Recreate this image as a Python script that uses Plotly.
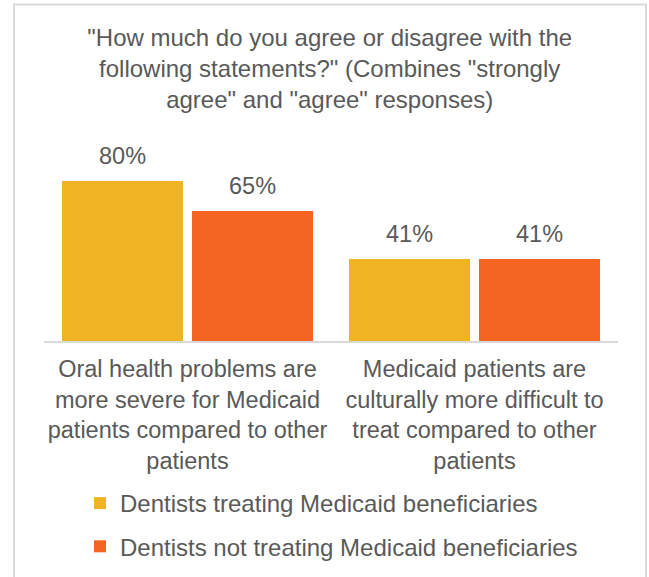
import plotly.graph_objects as go

categories = [
    "Oral health problems are<br>more severe for Medicaid<br>patients compared to other<br>patients",
    "Medicaid patients are<br>culturally more difficult to<br>treat compared to other<br>patients",
]
series_names = [
    "Dentists treating Medicaid beneficiaries",
    "Dentists not treating Medicaid beneficiaries",
]
treating = [80, 41]
not_treating = [65, 41]
colors = ["#F0B323", "#F26522"]
title_text = ('"How much do you agree or disagree with the<br>'
              'following statements?" (Combines "strongly<br>'
              'agree" and "agree" responses)')

FONT = "Arial, Liberation Sans, sans-serif"
TXT = "#595959"
FS = 23.5

W, H = 649, 577
ml, mr, mt, mb = 44, 31, 141, 236
pw, ph = W - ml - mr, H - mt - mb

fig = go.Figure()
for i, (name, vals) in enumerate(zip(series_names, [treating, not_treating])):
    fig.add_trace(go.Bar(
        x=categories, y=vals, name=name, marker_color=colors[i],
        marker_line_width=0, legendgroup=f"g{i}",
    ))

annotations = []
for i, vals in enumerate([treating, not_treating]):
    shift = -65 if i == 0 else 65
    for c, v in zip(categories, vals):
        annotations.append(dict(
            x=c, y=v, xref="x", yref="y", text=f"{v}%", showarrow=False,
            xshift=shift, yanchor="bottom", yshift=10,
            font=dict(family=FONT, size=FS, color=TXT),
        ))

def px_x(p):
    return (p - ml) / pw

def px_y(p):
    return (H - mb - p) / ph

fig.update_layout(
    width=W, height=H,
    margin=dict(l=ml, r=mr, t=mt, b=mb, autoexpand=False),
    paper_bgcolor="white", plot_bgcolor="white",
    title=dict(text=title_text, x=0.508, xanchor="center", y=1 - 46 / H,
               yanchor="top", yref="container", automargin=False,
               font=dict(family=FONT, size=24, color=TXT)),
    barmode="group", bargap=0.094, bargroupgap=0.069,
    showlegend=True,
    legend=dict(x=px_x(80), xanchor="left", y=px_y(481), yanchor="top",
                orientation="v", traceorder="grouped", tracegroupgap=9,
                font=dict(family=FONT, size=24, color=TXT),
                bgcolor="rgba(0,0,0,0)"),
    annotations=annotations,
    shapes=[dict(type="rect", xref="paper", yref="paper",
                 x0=px_x(14), x1=px_x(646), y0=px_y(640), y1=px_y(4.5),
                 line=dict(color="#D9D9D9", width=2), layer="below")],
    xaxis=dict(showline=True, linecolor="#D9D9D9", linewidth=2,
               showgrid=False, ticks="", ticklabelstandoff=6, automargin=False,
               tickfont=dict(family=FONT, size=FS, color=TXT)),
    yaxis=dict(range=[0, 100], visible=False, showgrid=False),
)

fig.write_html("out.html")
